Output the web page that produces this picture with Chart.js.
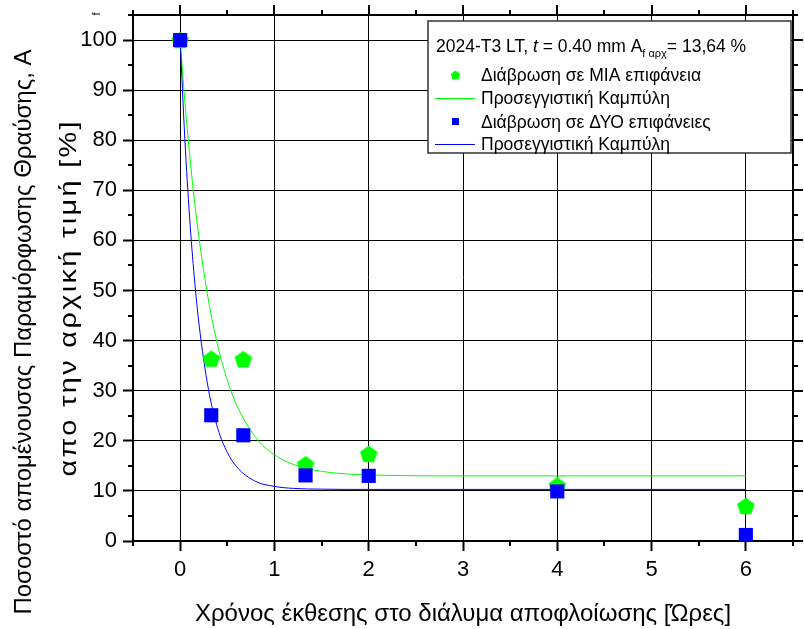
<!DOCTYPE html>
<html>
<head>
<meta charset="utf-8">
<script src="https://cdn.jsdelivr.net/npm/chart.js@4.4.1/dist/chart.umd.min.js"></script>
<style>
  body { margin: 0; background: #fff; }
  canvas { display: block; }
</style>
</head>
<body>
<canvas id="c" width="804" height="629"></canvas>
<script>
// exposure time (hours) and remaining fracture strain (% of initial)
var hours = [0, 0.33, 0.67, 1.33, 2, 4, 6];
var oneSide = [100, 36.4, 36.3, 15.3, 17.4, 11.1, 7.0];
var twoSides = [100, 25.1, 21.1, 13.1, 13.0, 9.9, 1.2];

// fitted curves, read along x
var fitHours = [0, 0.05, 0.1, 0.15, 0.2, 0.3, 0.4, 0.5, 0.6, 0.8, 1.0, 1.2, 1.5, 2, 3, 4, 5, 6];
var fitOneSide = [100, 87.8, 77.3, 68.2, 60.5, 48.1, 38.9, 32.1, 27.1, 20.7, 17.2, 15.3, 13.9, 13.2, 13.0, 13.0, 13.0, 13.0];
var fitTwoSides = [100, 80.2, 64.7, 52.7, 43.3, 30.3, 22.4, 17.7, 14.8, 11.9, 10.9, 10.5, 10.35, 10.3, 10.3, 10.3, 10.3, 10.3];

var xTicks = [0, 1, 2, 3, 4, 5, 6];
var xMinor = [0.5, 1.5, 2.5, 3.5, 4.5, 5.5];
var yTicks = [0, 10, 20, 30, 40, 50, 60, 70, 80, 90, 100];
var yMinor = [5, 15, 25, 35, 45, 55, 65, 75, 85, 95];

var FONT = "'Liberation Sans', Arial, sans-serif";
var GREEN = "#00ff00";
var BLUE = "#0000ff";

function pairs(xs, ys) {
  return xs.map(function(x, i) { return {x: x, y: ys[i]}; });
}

// pentagon marker, point up
function pentagon(ctx, cx, cy, r) {
  ctx.beginPath();
  for (var i = 0; i < 5; i++) {
    var a = -Math.PI / 2 + i * 2 * Math.PI / 5;
    var px = cx + r * Math.cos(a), py = cy + r * Math.sin(a);
    if (i === 0) ctx.moveTo(px, py); else ctx.lineTo(px, py);
  }
  ctx.closePath();
  ctx.fill();
}

var penta = document.createElement("canvas");
penta.width = 20;
penta.height = 20;
(function() {
  var g = penta.getContext("2d");
  g.fillStyle = GREEN;
  pentagon(g, 10, 10 + 0.095 * 9.2, 9.2);
})();

function setTicks(list) {
  return function(scale) {
    scale.ticks = list.map(function(v) { return {value: v}; });
  };
}

// vertical text; when span is given the line is widened a little and
// the rest is made up with letter spacing
function rotatedText(ctx, text, x, y, span) {
  ctx.save();
  ctx.translate(x, y);
  ctx.rotate(-Math.PI / 2);
  if (span) {
    var k = 1.2;
    var gap = (span - k * ctx.measureText(text).width) / (text.length - 1);
    ctx.scale(k, 1);
    ctx.letterSpacing = (gap / k) + "px";
    ctx.translate(gap / k / 2, 0);
  }
  ctx.fillText(text, 0, 0);
  ctx.restore();
}

var extras = {
  id: "extras",
  afterDraw: function(chart) {
    var ctx = chart.ctx;
    var xs = chart.scales.x, ys = chart.scales.y;
    var a = chart.chartArea;
    ctx.save();
    ctx.strokeStyle = "#000";
    ctx.lineWidth = 2;

    // top and right frame
    ctx.beginPath();
    ctx.moveTo(a.left, a.top); ctx.lineTo(a.right, a.top);
    ctx.moveTo(a.right, a.top); ctx.lineTo(a.right, a.bottom);
    ctx.stroke();

    // minor ticks, and ticks on the top and right sides
    ctx.beginPath();
    xTicks.forEach(function(v) {
      var p = Math.round(xs.getPixelForValue(v));
      ctx.moveTo(p, a.top); ctx.lineTo(p, a.top - 10);
    });
    xMinor.concat([-0.5, 6.5]).forEach(function(v) {
      var p = Math.round(xs.getPixelForValue(v));
      ctx.moveTo(p, a.bottom); ctx.lineTo(p, a.bottom + 5);
      ctx.moveTo(p, a.top); ctx.lineTo(p, a.top - 5);
    });
    yTicks.forEach(function(v) {
      var p = Math.round(ys.getPixelForValue(v));
      ctx.moveTo(a.right, p); ctx.lineTo(a.right + 10, p);
    });
    yMinor.concat([105]).forEach(function(v) {
      var p = Math.round(ys.getPixelForValue(v));
      ctx.moveTo(a.left, p); ctx.lineTo(a.left - 5, p);
      ctx.moveTo(a.right, p); ctx.lineTo(a.right + 5, p);
    });
    ctx.stroke();

    // legend box
    var lx = 428, ly = 21, lw = 363, lh = 132;
    ctx.fillStyle = "#fff";
    ctx.fillRect(lx, ly, lw, lh);
    ctx.strokeStyle = "#333";
    ctx.lineWidth = 1.5;
    ctx.strokeRect(lx, ly, lw, lh);

    ctx.fillStyle = "#000";
    ctx.textBaseline = "alphabetic";
    ctx.textAlign = "left";
    var tx = 436, ty = 52;
    var parts = [
      ["2024-T3 LT, ", "17.5px " + FONT, 0],
      ["t", "italic 17.5px " + FONT, 0],
      [" = 0.40 mm A", "17.5px " + FONT, 0],
      ["f αρχ", "11px " + FONT, 5],
      ["= 13,64 %", "17.5px " + FONT, 0]
    ];
    parts.forEach(function(p) {
      ctx.font = p[1];
      ctx.fillText(p[0], tx, ty + p[2]);
      tx += ctx.measureText(p[0]).width;
    });

    ctx.font = "17.5px " + FONT;
    var items = [
      ["Διάβρωση σε ΜΙΑ επιφάνεια", "penta", GREEN, 81],
      ["Προσεγγιστική Καμπύλη", "line", GREEN, 104],
      ["Διάβρωση σε ΔΥΟ επιφάνειες", "rect", BLUE, 127.5],
      ["Προσεγγιστική Καμπύλη", "line", BLUE, 150]
    ];
    items.forEach(function(it) {
      var cy = it[3] - 6;
      ctx.fillStyle = it[2];
      ctx.strokeStyle = it[2];
      if (it[1] === "penta") {
        pentagon(ctx, 455.5, cy + 0.5, 5);
      } else if (it[1] === "rect") {
        ctx.fillRect(452, cy - 3.5, 7, 7);
      } else {
        ctx.lineWidth = 1;
        ctx.beginPath();
        ctx.moveTo(435, cy + 0.5); ctx.lineTo(475, cy + 0.5);
        ctx.stroke();
      }
      ctx.fillStyle = "#000";
      ctx.fillText(it[0], 481, it[3]);
    });

    // axis titles
    ctx.font = "24px " + FONT;
    ctx.textAlign = "center";
    ctx.fillText("Χρόνος έκθεσης στο διάλυμα αποφλοίωσης [Ώρες]", (a.left + a.right) / 2, 621);
    rotatedText(ctx, "Ποσοστό απομένουσας Παραμόρφωσης Θραύσης, A", 31, 332);
    rotatedText(ctx, "απο την αρχική τιμή [%]", 76, 299, 355);
    ctx.font = "11px " + FONT;
    rotatedText(ctx, "f", 100, 14);

    ctx.restore();
  }
};

new Chart("c", {
  type: "scatter",
  data: {
    datasets: [
      {
        label: "Διάβρωση σε ΔΥΟ επιφάνειες",
        data: pairs(hours, twoSides),
        pointStyle: "rect",
        pointRadius: 10,
        pointBorderWidth: 0,
        backgroundColor: BLUE,
        borderColor: BLUE
      },
      {
        label: "Διάβρωση σε ΜΙΑ επιφάνεια",
        data: pairs(hours, oneSide),
        pointStyle: penta,
        pointRadius: 10,
        backgroundColor: GREEN,
        borderColor: GREEN
      },
      {
        label: "Προσεγγιστική Καμπύλη",
        data: pairs(fitHours, fitTwoSides),
        showLine: true,
        pointRadius: 0,
        borderWidth: 1,
        borderColor: BLUE,
        cubicInterpolationMode: "monotone"
      },
      {
        label: "Προσεγγιστική Καμπύλη",
        data: pairs(fitHours, fitOneSide),
        showLine: true,
        pointRadius: 0,
        borderWidth: 1,
        borderColor: GREEN,
        cubicInterpolationMode: "monotone"
      }
    ]
  },
  options: {
    responsive: false,
    animation: false,
    layout: { padding: { top: 15, right: 3, left: 0, bottom: 0 } },
    plugins: {
      legend: { display: false },
      tooltip: { enabled: false }
    },
    scales: {
      x: {
        type: "linear",
        min: -0.5,
        max: 6.5,
        afterBuildTicks: setTicks(xTicks),
        afterFit: function(scale) {
          scale.height = 88;
          scale.paddingLeft = 0;
          scale.paddingRight = 0;
        },
        border: { color: "#000", width: 2 },
        grid: { color: "#000", lineWidth: 1, tickColor: "#000", tickWidth: 2, tickLength: 10 },
        ticks: { color: "#000", padding: 6, maxRotation: 0, font: { family: FONT, size: 22 } }
      },
      y: {
        type: "linear",
        min: 0,
        max: 105,
        afterBuildTicks: setTicks(yTicks),
        afterFit: function(scale) {
          scale.width = 133;
          scale.paddingTop = 0;
          scale.paddingBottom = 0;
        },
        border: { color: "#000", width: 2 },
        grid: { color: "#000", lineWidth: 1, tickColor: "#000", tickWidth: 2, tickLength: 10 },
        ticks: { color: "#000", padding: 6, font: { family: FONT, size: 22 } }
      }
    }
  },
  plugins: [extras]
});
</script>
</body>
</html>
